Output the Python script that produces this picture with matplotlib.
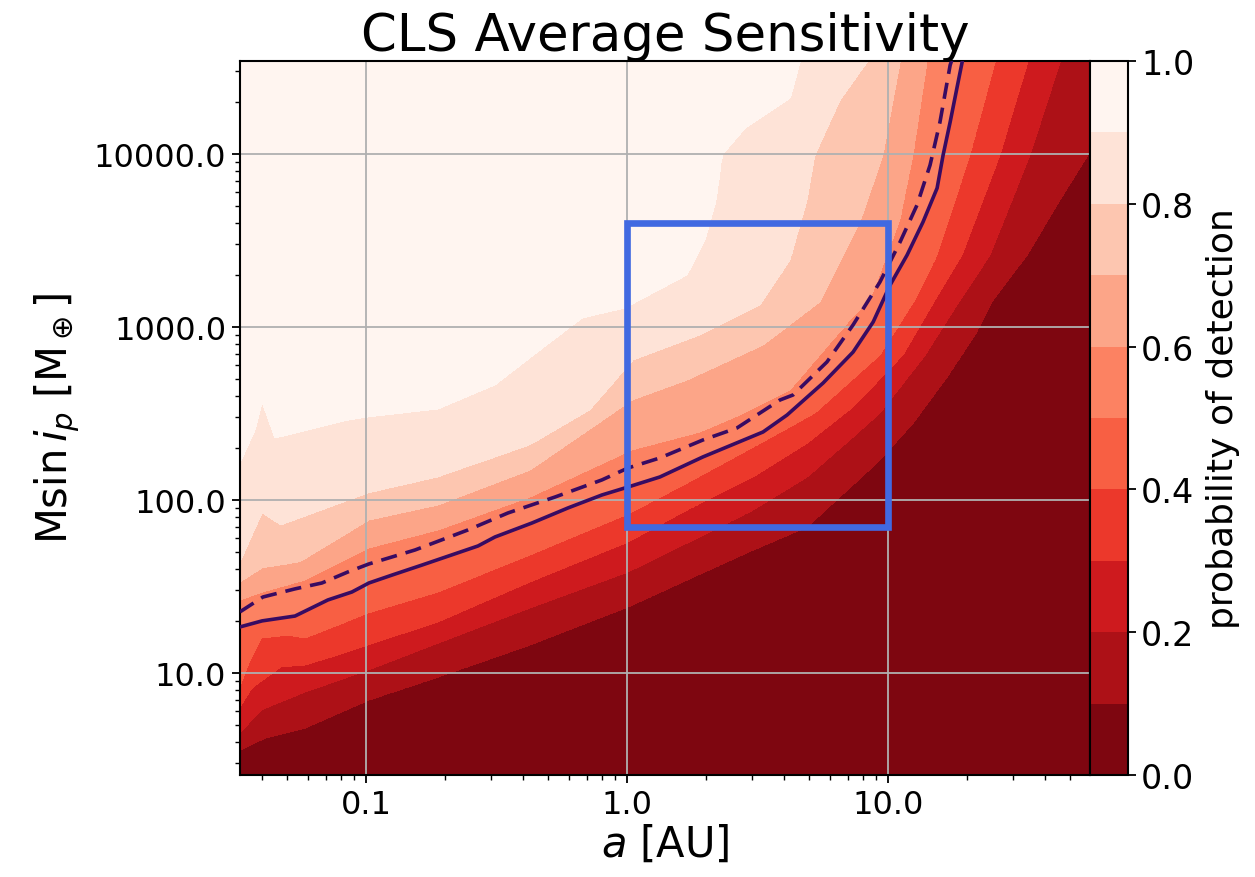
import numpy as np
import matplotlib
matplotlib.use("Agg")
import matplotlib.pyplot as plt
from matplotlib.colors import ListedColormap
from matplotlib.patches import Rectangle
from matplotlib.ticker import FormatStrFormatter

# Contour boundaries, as log10(a [AU]) and log10(Msini [M_earth])
levels = np.linspace(0.0, 1.0, 11)

p10_loga = [-1.483, -1.387, -1.234, -0.989, -0.724, -0.372, 0.004, 0.230, 0.483, 0.690, 0.969, 1.096, 1.226, 1.333, 1.402, 1.533, 1.659, 1.774, 1.812]
p10_logm = [0.555, 0.624, 0.682, 0.844, 0.977, 1.162, 1.382, 1.538, 1.711, 1.844, 2.231, 2.445, 2.711, 2.954, 3.156, 3.416, 3.734, 4.012, 4.081]

p20_loga = [-1.483, -1.402, -1.234, -0.992, -0.724, -0.372, 0.004, 0.230, 0.483, 0.690, 0.866, 0.969, 1.142, 1.276, 1.391, 1.544, 1.659, 1.774]
p20_logm = [0.653, 0.786, 0.890, 1.017, 1.173, 1.376, 1.584, 1.751, 1.942, 2.133, 2.364, 2.503, 2.838, 3.156, 3.416, 3.994, 4.532, 5.064]

p30_loga = [-1.483, -1.437, -1.326, -1.234, -1.107, -0.992, -0.724, -0.372, 0.004, 0.230, 0.483, 0.690, 0.866, 1.057, 1.180, 1.284, 1.429, 1.536, 1.659]
p30_logm = [0.803, 0.913, 1.035, 1.046, 1.104, 1.162, 1.295, 1.526, 1.757, 1.942, 2.133, 2.329, 2.538, 2.838, 3.156, 3.416, 3.994, 4.532, 5.121]

p40_loga = [-1.483, -1.444, -1.402, -1.299, -1.234, -1.107, -0.992, -0.724, -0.372, 0.004, 0.230, 0.483, 0.720, 0.969, 1.103, 1.188, 1.314, 1.410, 1.506]
p40_logm = [0.919, 1.075, 1.202, 1.220, 1.202, 1.277, 1.347, 1.468, 1.682, 1.919, 2.098, 2.306, 2.503, 2.838, 3.156, 3.416, 3.994, 4.532, 5.121]

# 50% boundary (also drawn as the solid line)
p50_loga = [-1.483, -1.398, -1.272, -1.146, -1.054, -0.989, -0.900, -0.785, -0.571, -0.506, -0.364, -0.226, -0.096, 0.004, 0.126,
            0.291, 0.521, 0.613, 0.751, 0.866, 0.943, 1.008, 1.073, 1.134, 1.188, 1.211, 1.238, 1.264, 1.284, 1.333]
p50_logm = [1.266, 1.301, 1.329, 1.422, 1.468, 1.520, 1.566, 1.624, 1.734, 1.786, 1.867, 1.954, 2.029, 2.075, 2.133,
            2.249, 2.393, 2.491, 2.676, 2.855, 3.029, 3.243, 3.416, 3.607, 3.803, 3.994, 4.185, 4.382, 4.532, 5.064]

p60_loga = [-1.483, -1.398, -1.234, -0.989, -0.724, -0.372, 0.019, 0.280, 0.433, 0.625, 0.739, 0.854, 0.931, 0.989, 1.046, 1.096, 1.149, 1.199]
p60_logm = [1.422, 1.468, 1.538, 1.723, 1.827, 2.017, 2.289, 2.393, 2.491, 2.636, 2.838, 3.040, 3.156, 3.387, 3.618, 3.994, 4.532, 5.064]

p70_loga = [-1.483, -1.398, -1.253, -0.989, -0.724, -0.372, 0.019, 0.230, 0.521, 0.739, 0.893, 0.981, 1.046, 1.084]
p70_logm = [1.526, 1.607, 1.642, 1.884, 1.971, 2.173, 2.578, 2.694, 2.896, 3.145, 3.607, 3.994, 4.532, 5.064]

p80_loga = [-1.483, -1.398, -1.326, -0.992, -0.724, -0.372, -0.142, 0.023, 0.280, 0.510, 0.625, 0.690, 0.720, 0.816, 0.920, 1.008]
p80_logm = [1.636, 1.925, 1.855, 2.040, 2.133, 2.318, 2.520, 2.809, 2.954, 3.127, 3.387, 3.734, 3.994, 4.312, 4.532, 5.064]

p90_loga = [-1.483, -1.425, -1.398, -1.349, -1.069, -0.992, -0.724, -0.506, -0.333, -0.172, -0.008, 0.230, 0.299, 0.341, 0.364, 0.452, 0.625, 0.663, 0.720]
p90_logm = [2.214, 2.405, 2.566, 2.358, 2.462, 2.480, 2.526, 2.665, 2.867, 3.052, 3.110, 3.301, 3.503, 3.734, 3.994, 4.150, 4.324, 4.532, 5.064]

# dashed curve
dashed_loga = [-1.483, -1.395, -1.272, -1.169, -1.069, -0.989, -0.812, -0.609, -0.456, -0.276, -0.096, 0.004, 0.126, 0.291,
               0.421, 0.586, 0.636, 0.766, 0.866, 0.969, 1.046, 1.111, 1.161, 1.199, 1.238, 1.257]
dashed_logm = [1.353, 1.439, 1.486, 1.520, 1.584, 1.630, 1.711, 1.827, 1.925, 2.017, 2.116, 2.185, 2.243, 2.347,
               2.416, 2.578, 2.607, 2.798, 3.012, 3.260, 3.491, 3.705, 3.936, 4.185, 4.514, 4.601]

a_range = (0.0329, 59.4)
m_range = (2.57, 34500.0)
box_a = (1.0, 10.0)
box_m = (70.0, 4000.0)

boundaries = [(p10_loga, p10_logm), (p20_loga, p20_logm), (p30_loga, p30_logm),
              (p40_loga, p40_logm), (p50_loga, p50_logm), (p60_loga, p60_logm),
              (p70_loga, p70_logm), (p80_loga, p80_logm), (p90_loga, p90_logm)]

# rebuild the probability grid column by column from the boundaries
la = np.linspace(np.log10(a_range[0]), np.log10(a_range[1]), 600)
lm = np.linspace(np.log10(m_range[0]), np.log10(m_range[1]), 600)
prob = np.zeros((len(lm), len(la)))
for j, x in enumerate(la):
    edges = [np.interp(x, bx, by) for bx, by in boundaries]
    for k in range(1, len(edges)):
        edges[k] = max(edges[k], edges[k - 1] + 1e-3)
    xp = [edges[0] - 0.5] + edges + [edges[-1] + 0.5]
    prob[:, j] = np.interp(lm, xp, levels)
prob = np.clip(prob, 0.0, 0.999)

# Reds, dark at 0 and near white at 1
cmap = ListedColormap(plt.cm.Reds(np.linspace(0.95, 0.0, 10)))

fig = plt.figure(figsize=(12.55, 8.78), dpi=100)
ax = fig.add_axes([240 / 1255, 102 / 878, 850 / 1255, 714 / 878])
cax = fig.add_axes([1090 / 1255, 102 / 878, 38 / 1255, 714 / 878])

A, M = np.meshgrid(10 ** la, 10 ** lm)
cf = ax.contourf(A, M, prob, levels=levels, cmap=cmap, zorder=0)

line_col = "#380b62"
ax.plot(10 ** np.array(p50_loga), 10 ** np.array(p50_logm), color=line_col, lw=2.6, zorder=3)
ax.plot(10 ** np.array(dashed_loga), 10 ** np.array(dashed_logm), color=line_col, lw=2.6, ls=(0, (4.5, 2.5)), zorder=3)

ax.add_patch(Rectangle((box_a[0], box_m[0]), box_a[1] - box_a[0], box_m[1] - box_m[0],
                       fill=False, edgecolor="royalblue", lw=4.8, zorder=4))

ax.set_xscale("log")
ax.set_yscale("log")
ax.set_xlim(*a_range)
ax.set_ylim(*m_range)
ax.xaxis.set_major_formatter(FormatStrFormatter("%.1f"))
ax.yaxis.set_major_formatter(FormatStrFormatter("%.1f"))
ax.grid(True, which="major", color="#b0b0b0", lw=1.3, zorder=1)
ax.tick_params(which="major", labelsize=23, length=6, width=1.3, pad=4)
ax.tick_params(which="minor", length=3.5, width=1.0)
for s in ax.spines.values():
    s.set_linewidth(1.5)

ax.set_xlabel(r"$a$ [AU]", fontsize=30, labelpad=2)
ax.set_ylabel(r"M$\sin i_p$ [M$_\oplus$]", fontsize=30, labelpad=8)
ax.set_title("CLS Average Sensitivity", fontsize=37, pad=4)

cb = fig.colorbar(cf, cax=cax, ticks=[0.0, 0.2, 0.4, 0.6, 0.8, 1.0])
cb.set_label("probability of detection", fontsize=26, labelpad=8)
cb.ax.tick_params(labelsize=24, length=6, width=1.3)
cb.outline.set_linewidth(1.5)

fig.savefig("out.png", dpi=100)
